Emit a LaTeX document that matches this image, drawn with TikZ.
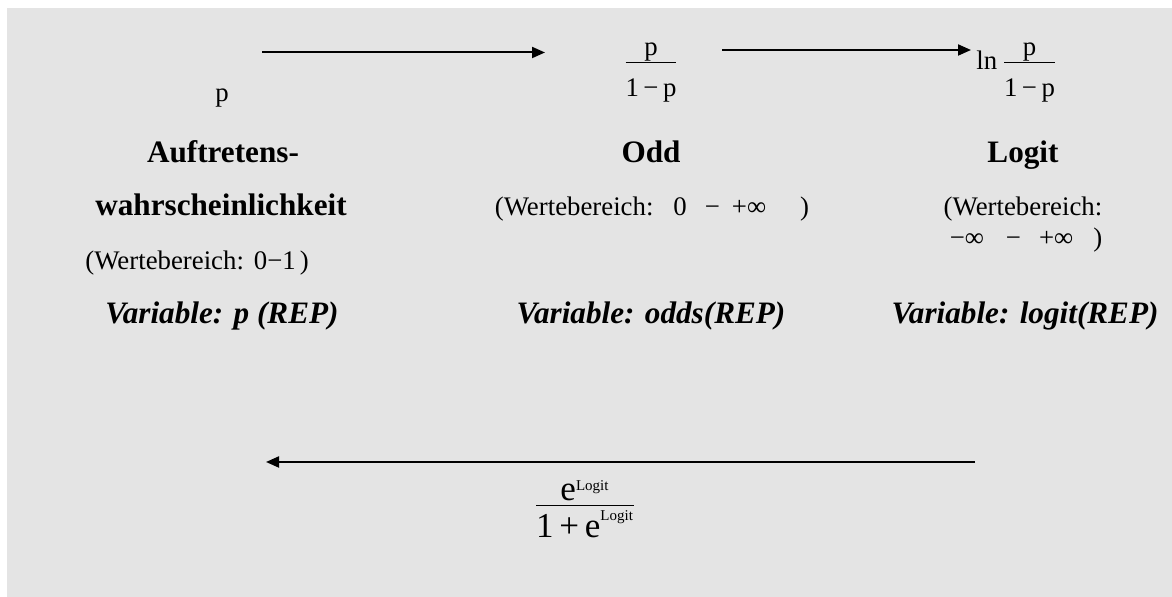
\documentclass[tikz,border=0pt]{standalone}
\usepackage{fontspec}
\setmainfont{Liberation Serif}
\usetikzlibrary{arrows.meta}
\definecolor{bggray}{HTML}{E4E4E4}
\newcommand{\sm}[1]{\mbox{\fontsize{7.5}{9}\selectfont #1}}
\newcommand{\hs}[1]{\hspace*{#1}}

\begin{document}
\begin{tikzpicture}[x=0.5pt, y=-0.5pt,
  lbl/.style={font=\fontsize{13.4}{16}\selectfont, inner sep=0pt, anchor=base},
  big/.style={font=\fontsize{17.5}{20}\selectfont, inner sep=0pt, anchor=base},
  ttl/.style={font=\fontsize{15.6}{19}\selectfont\bfseries, inner sep=0pt, anchor=base},
  var/.style={font=\fontsize{15.6}{19}\selectfont\bfseries\itshape, inner sep=0pt, anchor=base},
  arr/.style={line width=1pt, -{Triangle[length=6.5pt, width=5.5pt]}}]
  \useasboundingbox (0,0) rectangle (1172,597);
  \fill[bggray] (7,8) rectangle (1172,597);
  % top row: formulas
  \node[lbl] (p) at (222,102) {p};
  \node[lbl] (odd) at (651,70) {$\frac{\mbox{p}}{\rule{0pt}{16.4pt}\mbox{1\,−\,p}}$};
  \node[lbl, anchor=base west] (logit) at (976,70) {ln\,$\frac{\mbox{p}}{\rule{0pt}{16.4pt}\mbox{1\,−\,p}}$};
  \coordinate (a1s) at (262,52.5);
  \coordinate (a1e) at (545,52.5);
  \coordinate (a2s) at (722,50);
  \coordinate (a2e) at (971,50);
  \draw[arr] (a1s) -- (a1e);
  \draw[arr] (a2s) -- (a2e);
  % names
  \node[ttl] (n1) at (223,163) {Auftretens-};
  \node[ttl] (n1b) at (221,216) {wahrscheinlichkeit};
  \node[ttl] (n2) at (651,163) {Odd};
  \node[ttl] (n3) at (1023,163) {Logit};
  % ranges
  \node[lbl, anchor=base west] (r1) at (85,270) {(Wertebereich:\hs{5pt}0−1\hs{2pt})};
  \node[lbl] (r2) at (652,216) {(Wertebereich:\hs{10pt}0\hs{9pt}−\hs{6pt}+∞\hs{17pt})};
  \node[lbl] (r3) at (1023,216) {(Wertebereich:};
  \node[lbl] (r3b) at (1026,247) {−∞\hs{11pt}−\hs{9pt}+∞\hs{10pt})};
  % variables
  \node[var] (v1) at (222,324) {Variable: p (REP)};
  \node[var] (v2) at (651,324) {Variable: odds(REP)};
  \node[var] (v3) at (1025,324) {Variable: logit(REP)};
  % back transformation
  \coordinate (b1s) at (975,462);
  \coordinate (b1e) at (266,462);
  \draw[arr] (b1s) -- (b1e);
  \node[big] (back) at (585,514) {$\frac{\mbox{e}^{\sm{Logit}}}{\rule{0pt}{15.4pt}\mbox{1\,+\,e}^{\sm{Logit}}}$};
\end{tikzpicture}
\end{document}
